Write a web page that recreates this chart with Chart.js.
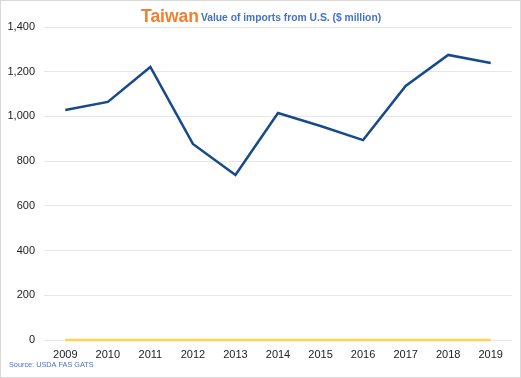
<!DOCTYPE html>
<html>
<head>
<meta charset="utf-8">
<script src="https://cdn.jsdelivr.net/npm/chart.js@4/dist/chart.umd.min.js"></script>
<style>
html,body{margin:0;padding:0;background:#fff;}
#wrap{position:relative;width:521px;height:378px;}
canvas{display:block;}
</style>
</head>
<body>
<div id="wrap"><canvas id="c" width="521" height="378"></canvas></div>
<script>
const years = ['2009','2010','2011','2012','2013','2014','2015','2016','2017','2018','2019'];
const importsUS = [1029, 1065, 1221, 877, 738, 1015, 957, 894, 1136, 1275, 1239];
const zeroSeries = [0, 0, 0, 0, 0, 0, 0, 0, 0, 0, 0];
const yTicks = [0, 200, 400, 600, 800, 1000, 1200, 1400];

const decor = {
  id: 'decor',
  afterDraw(chart) {
    const ctx = chart.ctx;
    ctx.save();
    ctx.strokeStyle = '#d9d9d9';
    ctx.lineWidth = 1;
    ctx.strokeRect(0.5, 0.5, 520, 377);
    // title
    ctx.textBaseline = 'alphabetic';
    const t1 = 'Taiwan';
    const t2 = ' Value of imports from U.S. ($ million)';
    ctx.font = 'bold 17.5px "Liberation Sans", Arial, sans-serif';
    const w1 = ctx.measureText(t1).width;
    let x = 141;
    ctx.fillStyle = '#F07F2E';
    ctx.fillText(t1, x, 22);
    ctx.font = 'bold 10.3px "Liberation Sans", Arial, sans-serif';
    ctx.fillStyle = '#4472C4';
    ctx.fillText(t2, x + w1 - 1, 21);
    // source
    ctx.font = '7.3px "Liberation Sans", Arial, sans-serif';
    ctx.fillStyle = '#4472C4';
    ctx.fillText('Source: USDA FAS GATS', 9, 367);
    ctx.restore();
  }
};

new Chart(document.getElementById('c'), {
  type: 'line',
  data: {
    labels: years,
    datasets: [
      {
        label: 'Imports from U.S.',
        data: importsUS,
        borderColor: '#174A8B',
        borderWidth: 2.5,
        pointRadius: 0,
        tension: 0,
        fill: false,
        clip: false,
        order: 1
      },
      {
        label: 'Zero',
        data: zeroSeries,
        borderColor: '#FFD34E',
        borderWidth: 2.5,
        pointRadius: 0,
        tension: 0,
        fill: false,
        clip: false,
        order: 2
      }
    ]
  },
  options: {
    responsive: false,
    animation: false,
    devicePixelRatio: 1,
    layout: { padding: { top: 27, right: 9, left: 0, bottom: 0 } },
    plugins: { legend: { display: false }, title: { display: false }, tooltip: { enabled: false } },
    scales: {
      x: {
        offset: true,
        grid: { display: false },
        border: { display: false },
        ticks: {
          color: '#222',
          font: { family: '"Liberation Sans", Arial, sans-serif', size: 11 },
          maxRotation: 0,
          autoSkip: false,
          padding: 0
        },
        afterFit(scale) { scale.height = 38; }
      },
      y: {
        min: 0,
        max: 1400,
        afterBuildTicks(scale) { scale.ticks = yTicks.map(v => ({ value: v })); },
        grid: { color: '#e6e6e6', lineWidth: 1, drawTicks: false },
        border: { display: false },
        ticks: {
          color: '#222',
          font: { family: '"Liberation Sans", Arial, sans-serif', size: 11 },
          padding: 9,
          callback: v => v.toLocaleString('en-US')
        },
        afterFit(scale) { scale.width = 44; }
      }
    }
  },
  plugins: [decor]
});
</script>
</body>
</html>
